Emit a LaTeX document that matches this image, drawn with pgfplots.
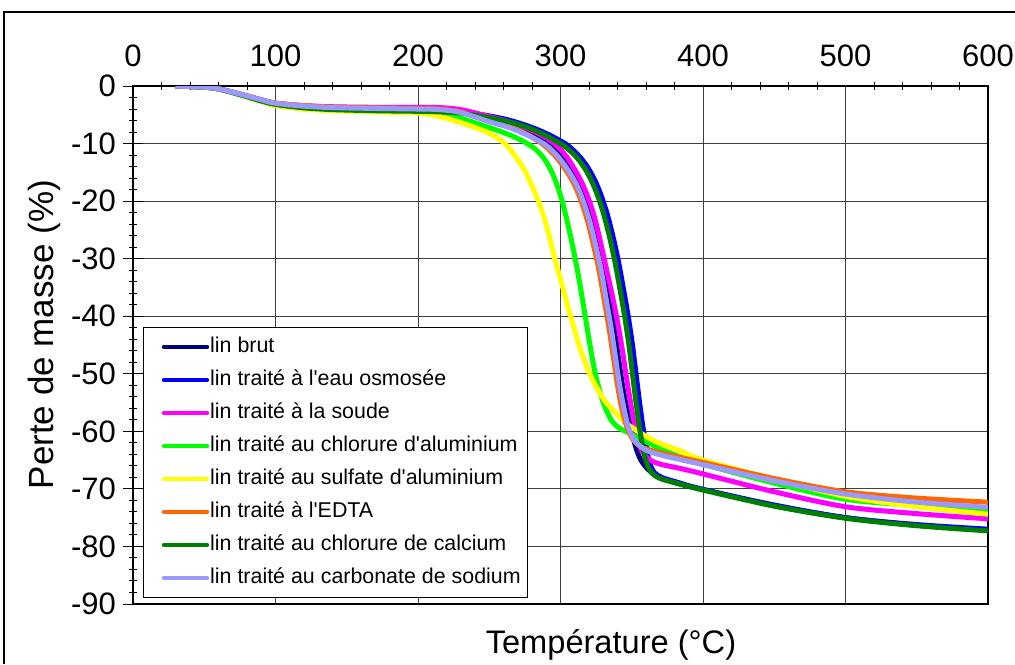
\documentclass[border=0pt]{standalone}
\usepackage{fontspec}
\setmainfont{Liberation Sans}
\usepackage{pgfplots}
\pgfplotsset{compat=1.18}

\definecolor{cbrut}{HTML}{000080}
\definecolor{cosmo}{HTML}{0000FF}
\definecolor{csoude}{HTML}{FF00FF}
\definecolor{calcl}{HTML}{00FF00}
\definecolor{calsu}{HTML}{FFFF00}
\definecolor{cedta}{HTML}{FF6600}
\definecolor{ccacl}{HTML}{008000}
\definecolor{ccarb}{HTML}{9999FF}

\begin{document}
\begin{tikzpicture}
\useasboundingbox (0,0) rectangle (507.5pt,332pt);
% cadre extérieur
\draw[line width=0.75pt] (2pt,0pt) -- (2pt,326pt) -- (507.5pt,326pt);
\begin{axis}[
  scale only axis,
  width=427.5pt, height=259pt,
  at={(66.5pt,30pt)}, anchor=south west,
  xmin=0, xmax=600, ymin=-90, ymax=0,
  xtick={0,100,...,600},
  ytick={-90,-80,...,0},
  minor x tick num=4,
  minor y tick num=4,
  xtick pos=right, xticklabel pos=right,
  ytick pos=left,
  tick align=center,
  major tick length=10pt,
  minor tick length=4pt,
  major x tick style={draw=none},
  tick style={black, line width=0.5pt},
  grid=major,
  major grid style={black!75, line width=0.5pt},
  axis line style={line width=0.75pt},
  /pgf/number format/assume math mode=true,
  tick label style={font=\fontsize{15.5}{17}\selectfont},
  xticklabel style={yshift=1pt},
  label style={font=\fontsize{17}{20}\selectfont},
  xlabel={Température (°C)},
  ylabel={Perte de masse (\%)},
  xlabel style={font=\fontsize{16.3}{19}\selectfont, at={(axis description cs:0.559,0)}, anchor=north, yshift=-9pt},
  ylabel style={font=\fontsize{17.5}{20}\selectfont, at={(axis description cs:-0.103,0.52)}, anchor=center},
  legend cell align=left,
  legend style={at={(axis description cs:0.0117,0.0116)}, anchor=south west,
    draw=black, line width=0.5pt, inner xsep=3pt, inner ysep=4pt,
    font=\fontsize{10.7}{12}\selectfont, row sep=5pt,
    nodes={inner sep=0.5pt, text height=8pt, text depth=2.5pt}},
  legend image code/.code={
    \path (0pt,0pt);
    \draw[#1, line width=2.2pt, line cap=round] (6pt,0pt) -- (27.5pt,0pt);
  },
  every axis plot/.append style={line width=2.5pt, smooth, mark=none},
]
\addplot[cbrut] coordinates {
(30,0)(50,-0.2)(60,-0.5)(75,-1.4)(90,-2.4)(100,-3.0)(120,-3.5)(140,-3.8)(170,-3.95)
(200,-4.0)(215,-4.1)(230,-4.5)(250,-5.8)(265,-7.0)(279,-8.4)(291,-10.0)(300,-12.1)
(307,-14.5)(313,-17)(318,-20)(322.5,-23.5)(326.5,-27.5)(330.5,-32)(334,-37)(337.5,-42)
(340.5,-47)(343.5,-52)(346.5,-56)(349.5,-59.5)(352.5,-62.5)(356,-64.8)(361,-66.5)
(368,-67.8)(380,-68.9)(400,-70.1)(450,-72.9)(500,-75.0)(550,-76.3)(600,-77.1)};
\addlegendentry{lin brut}
\addplot[cosmo] coordinates {
(30,0)(50,-0.2)(60,-0.5)(75,-1.45)(90,-2.5)(100,-3.1)(120,-3.6)(140,-3.9)(170,-4.05)
(200,-4.15)(215,-4.25)(230,-4.5)(250,-5.2)(265,-6.0)(280,-7.2)(293,-8.6)(305,-10.3)
(313.5,-12.3)(319.5,-14.3)(324.5,-16.6)(328.5,-19)(332.5,-22)(336.5,-25.8)(340.5,-30.3)
(344,-35)(347.5,-40)(350.5,-45)(353,-50)(355.5,-55)(358,-59.5)(360.5,-63)(362.5,-65.5)
(366,-67.2)(372,-68.1)(380,-68.7)(400,-70.1)(450,-72.8)(500,-75.0)(550,-76.2)(600,-77.0)};
\addlegendentry{lin traité à l\textquotesingle eau osmosée}
\addplot[csoude] coordinates {
(30,0)(50,-0.2)(60,-0.5)(75,-1.4)(90,-2.4)(100,-3.0)(120,-3.4)(140,-3.6)(170,-3.7)
(200,-3.7)(215,-3.75)(230,-4.1)(250,-5.3)(265,-6.3)(279,-7.6)(290,-9)(297,-10.3)
(304,-12.2)(310,-14.5)(315,-16.8)(319.5,-19.5)(323.5,-22.5)(327.5,-26.5)(331.5,-31)
(336,-36)(340,-41)(343.5,-46)(346.5,-51)(349.5,-55.5)(352.5,-59.5)(355.5,-62.5)
(358.5,-64)(363,-65)(370,-65.7)(385,-66.5)(400,-67.4)(450,-70.5)(500,-73.1)(550,-74.3)(600,-75.2)};
\addlegendentry{lin traité à la soude}
\addplot[calcl] coordinates {
(30,0)(50,-0.2)(60,-0.5)(75,-1.5)(90,-2.6)(100,-3.2)(120,-3.7)(140,-4.0)(170,-4.2)
(200,-4.3)(215,-4.7)(230,-5.6)(245,-6.8)(258,-7.9)(268,-8.9)(276,-9.9)(283,-11.1)
(289,-12.8)(294,-15)(298,-17.5)(301.5,-20.3)(305,-23.8)(308.5,-27.8)(312,-32.2)
(315,-36.5)(318,-41)(321,-45.5)(324,-49.5)(327.5,-53)(331.5,-56)(336,-58.2)(341,-59.4)
(348,-60.3)(360,-61.8)(375,-63.6)(400,-65.7)(450,-69)(500,-71.8)(550,-72.9)(600,-73.8)};
\addlegendentry{lin traité au chlorure d\textquotesingle aluminium}
\addplot[calsu] coordinates {
(30,0)(50,-0.2)(60,-0.5)(75,-1.5)(90,-2.7)(100,-3.4)(120,-4.0)(140,-4.3)(170,-4.5)
(200,-4.7)(215,-5.3)(228,-6.2)(240,-7.2)(250,-8.2)(258,-9.4)(264,-10.8)(270,-12.8)
(275,-14.8)(279,-16.8)(282.5,-18.8)(286,-21)(291,-25)(296,-30)(300.5,-34)(305,-38.2)
(309.5,-42)(314,-45.8)(318.5,-48.8)(323,-51.3)(327.5,-53.3)(332,-55)(338,-56.6)
(345,-58.4)(355,-60.1)(367,-61.8)(384,-63.4)(400,-65.0)(450,-68.3)(500,-71.3)
(550,-73.1)(600,-74.4)};
\addlegendentry{lin traité au sulfate d\textquotesingle aluminium}
\addplot[cedta] coordinates {
(30,0)(50,-0.2)(60,-0.5)(75,-1.4)(90,-2.4)(100,-2.95)(120,-3.4)(140,-3.65)(170,-3.8)
(200,-3.9)(215,-4.0)(230,-4.5)(250,-6.0)(265,-7.1)(278,-8.6)(288.5,-10.3)(296.5,-12.2)
(303.5,-14.5)(309.5,-17)(314.5,-20)(319,-23.5)(323,-27.5)(327,-32)(330.5,-37)(334,-42)
(337,-47)(340,-52)(343,-56)(346.5,-59.2)(350.5,-61.3)(356,-62.6)(365,-63.4)(380,-64.3)
(400,-65.4)(450,-68.2)(500,-70.5)(550,-71.6)(600,-72.3)};
\addlegendentry{lin traité à l\textquotesingle EDTA}
\addplot[ccacl] coordinates {
(30,0)(50,-0.2)(60,-0.5)(75,-1.5)(90,-2.6)(100,-3.2)(120,-3.8)(140,-4.1)(170,-4.3)
(200,-4.4)(215,-4.5)(230,-4.7)(250,-5.5)(265,-6.3)(280,-7.5)(292,-8.9)(303,-10.5)
(311,-12.3)(317,-14.3)(322,-16.6)(326,-19)(330,-22)(334,-25.8)(338,-30.3)(341.5,-35)
(345,-40)(348,-45)(350.5,-50)(353,-55)(355.5,-59.5)(358,-63)(360.5,-65.5)(364,-67.2)
(370,-68.2)(380,-68.9)(400,-70.2)(450,-73.0)(500,-75.1)(550,-76.4)(600,-77.3)};
\addlegendentry{lin traité au chlorure de calcium}
\addplot[ccarb] coordinates {
(30,0)(50,-0.2)(60,-0.5)(75,-1.4)(90,-2.4)(100,-3.0)(120,-3.5)(140,-3.75)(170,-3.9)
(200,-4.0)(215,-4.1)(230,-4.6)(250,-6.2)(265,-7.3)(279,-8.8)(290,-10.3)(298,-12.2)
(305,-14.5)(311,-17)(316,-20)(320.5,-23.5)(324.5,-27.5)(328.5,-32)(332,-37)(335.5,-42)
(338.5,-47)(341.5,-52)(344.5,-56)(347.5,-59.2)(351,-61.2)(355,-62.4)(362,-63.5)
(375,-64.4)(400,-65.8)(450,-68.6)(500,-70.9)(550,-72.3)(600,-73.2)};
\addlegendentry{lin traité au carbonate de sodium}
\end{axis}
\end{tikzpicture}
\end{document}
